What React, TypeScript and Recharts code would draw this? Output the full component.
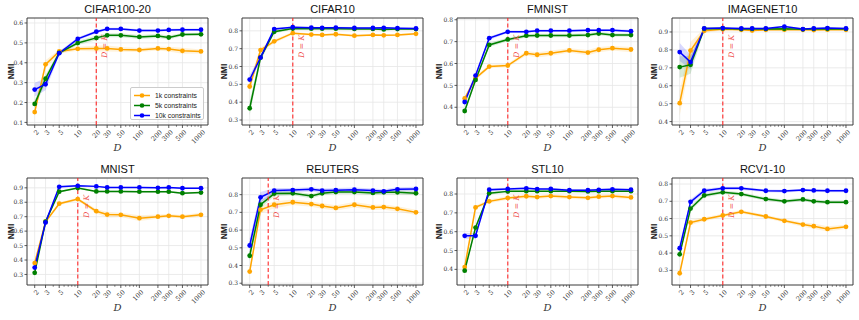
import React from "react";
import {
  ComposedChart,
  Line,
  Area,
  XAxis,
  YAxis,
  CartesianGrid,
  ReferenceLine,
  ReferenceArea,
} from "recharts";

const D_VALUES = [2, 3, 5, 10, 20, 30, 50, 100, 200, 300, 500, 1000];
const MINOR_D = [4, 6, 7, 8, 9, 40, 60, 70, 80, 90, 400, 600, 700, 800, 900];
const SERIES_NAMES = ["1k constraints", "5k constraints", "10k constraints"];
const COLORS = ["#ffa500", "#008000", "#0000ff"];

const TICKS_1_6 = [0.1, 0.2, 0.3, 0.4, 0.5, 0.6];
const TICKS_3_8 = [0.3, 0.4, 0.5, 0.6, 0.7, 0.8];
const TICKS_4_8 = [0.4, 0.5, 0.6, 0.7, 0.8];
const TICKS_4_9 = [0.4, 0.5, 0.6, 0.7, 0.8, 0.9];
const TICKS_3_9 = [0.3, 0.4, 0.5, 0.6, 0.7, 0.8, 0.9];

// CIFAR100-20
const c100_1k = [0.152, 0.392, 0.457, 0.47, 0.472, 0.472, 0.467, 0.464, 0.472, 0.469, 0.46, 0.457];
const c100_5k = [0.193, 0.32, 0.45, 0.499, 0.525, 0.538, 0.538, 0.53, 0.535, 0.527, 0.542, 0.543];
const c100_10k = [0.265, 0.292, 0.448, 0.52, 0.556, 0.57, 0.57, 0.562, 0.562, 0.565, 0.566, 0.566];
const c100_e1k = [0.01, 0.02, 0.01, 0.01, 0.015, 0.015, 0.012, 0.01, 0.01, 0.012, 0.015, 0.01];
const c100_e5k = [0.02, 0.02, 0.01, 0.01, 0.012, 0.01, 0.01, 0.01, 0.01, 0.01, 0.008, 0.008];
const c100_e10k = [0.035, 0.03, 0.01, 0.008, 0.008, 0.006, 0.006, 0.006, 0.006, 0.006, 0.006, 0.006];

// CIFAR10
const c10_1k = [0.488, 0.692, 0.741, 0.787, 0.779, 0.777, 0.781, 0.773, 0.777, 0.775, 0.777, 0.783];
const c10_5k = [0.366, 0.65, 0.795, 0.813, 0.812, 0.812, 0.812, 0.811, 0.811, 0.808, 0.81, 0.81];
const c10_10k = [0.527, 0.65, 0.81, 0.82, 0.818, 0.817, 0.818, 0.816, 0.816, 0.817, 0.815, 0.813];
const c10_e1k = [0.03, 0.015, 0.01, 0.008, 0.006, 0.006, 0.006, 0.006, 0.006, 0.006, 0.006, 0.006];
const c10_e5k = [0.04, 0.02, 0.01, 0.005, 0.005, 0.005, 0.005, 0.005, 0.005, 0.005, 0.005, 0.005];
const c10_e10k = [0.025, 0.015, 0.008, 0.005, 0.005, 0.005, 0.005, 0.005, 0.005, 0.005, 0.005, 0.005];

// FMNIST
const fm_1k = [0.44, 0.533, 0.586, 0.591, 0.647, 0.64, 0.647, 0.66, 0.65, 0.663, 0.67, 0.664];
const fm_5k = [0.383, 0.525, 0.685, 0.71, 0.727, 0.728, 0.728, 0.728, 0.73, 0.737, 0.73, 0.73];
const fm_10k = [0.424, 0.545, 0.716, 0.745, 0.745, 0.75, 0.75, 0.75, 0.752, 0.752, 0.752, 0.748];
const fm_e1k = [0.01, 0.01, 0.008, 0.008, 0.01, 0.012, 0.012, 0.01, 0.012, 0.012, 0.01, 0.012];
const fm_e5k = [0.01, 0.01, 0.01, 0.008, 0.008, 0.008, 0.008, 0.008, 0.008, 0.008, 0.008, 0.008];
const fm_e10k = [0.02, 0.01, 0.008, 0.006, 0.006, 0.006, 0.006, 0.006, 0.006, 0.006, 0.006, 0.006];

// IMAGENET10
const in_1k = [0.503, 0.796, 0.907, 0.915, 0.912, 0.908, 0.912, 0.913, 0.912, 0.911, 0.913, 0.912];
const in_5k = [0.704, 0.717, 0.918, 0.92, 0.916, 0.917, 0.917, 0.918, 0.915, 0.917, 0.918, 0.917];
const in_10k = [0.788, 0.732, 0.92, 0.922, 0.92, 0.92, 0.92, 0.93, 0.916, 0.92, 0.922, 0.92];
const in_e1k = [0.07, 0.05, 0.012, 0.006, 0.006, 0.006, 0.006, 0.006, 0.006, 0.006, 0.006, 0.006];
const in_e5k = [0.06, 0.05, 0.01, 0.005, 0.005, 0.005, 0.005, 0.005, 0.005, 0.005, 0.005, 0.005];
const in_e10k = [0.05, 0.04, 0.008, 0.005, 0.005, 0.005, 0.005, 0.005, 0.005, 0.005, 0.005, 0.005];

// MNIST
const mn_1k = [0.379, 0.665, 0.79, 0.822, 0.738, 0.715, 0.713, 0.69, 0.7, 0.706, 0.7, 0.713];
const mn_5k = [0.311, 0.665, 0.873, 0.898, 0.875, 0.875, 0.875, 0.873, 0.873, 0.873, 0.863, 0.867];
const mn_10k = [0.348, 0.66, 0.907, 0.914, 0.91, 0.903, 0.903, 0.903, 0.9, 0.903, 0.897, 0.897];
const mn_e1k = [0.01, 0.01, 0.01, 0.01, 0.015, 0.02, 0.015, 0.02, 0.015, 0.012, 0.012, 0.015];
const mn_e5k = [0.01, 0.008, 0.006, 0.005, 0.006, 0.006, 0.006, 0.006, 0.006, 0.006, 0.006, 0.006];
const mn_e10k = [0.01, 0.008, 0.005, 0.005, 0.005, 0.005, 0.005, 0.005, 0.005, 0.005, 0.005, 0.005];

// REUTERS
const re_1k = [0.366, 0.715, 0.743, 0.757, 0.747, 0.736, 0.725, 0.743, 0.728, 0.73, 0.72, 0.7];
const re_5k = [0.455, 0.743, 0.806, 0.808, 0.792, 0.808, 0.815, 0.815, 0.81, 0.813, 0.813, 0.808];
const re_10k = [0.513, 0.785, 0.823, 0.826, 0.83, 0.823, 0.825, 0.828, 0.823, 0.819, 0.83, 0.832];
const re_e1k = [0.02, 0.02, 0.02, 0.015, 0.015, 0.015, 0.015, 0.015, 0.015, 0.015, 0.015, 0.015];
const re_e5k = [0.03, 0.02, 0.015, 0.012, 0.012, 0.012, 0.012, 0.012, 0.012, 0.012, 0.012, 0.012];
const re_e10k = [0.04, 0.03, 0.015, 0.012, 0.012, 0.012, 0.012, 0.012, 0.012, 0.012, 0.012, 0.012];

// STL10
const st_1k = [0.412, 0.729, 0.761, 0.779, 0.788, 0.784, 0.789, 0.784, 0.78, 0.786, 0.789, 0.782];
const st_5k = [0.393, 0.622, 0.804, 0.814, 0.815, 0.815, 0.815, 0.815, 0.814, 0.815, 0.815, 0.815];
const st_10k = [0.578, 0.578, 0.823, 0.827, 0.83, 0.826, 0.827, 0.82, 0.82, 0.822, 0.825, 0.823];
const st_e1k = [0.01, 0.01, 0.01, 0.01, 0.01, 0.01, 0.01, 0.01, 0.01, 0.01, 0.01, 0.01];
const st_e5k = [0.01, 0.01, 0.008, 0.006, 0.006, 0.006, 0.006, 0.006, 0.006, 0.006, 0.006, 0.006];
const st_e10k = [0.015, 0.015, 0.008, 0.006, 0.006, 0.006, 0.006, 0.006, 0.006, 0.006, 0.006, 0.006];

// RCV1-10 (no run at D = 30)
const rc_1k = [0.283, 0.577, 0.596, 0.618, 0.639, null, 0.612, 0.587, 0.565, 0.556, 0.54, 0.552];
const rc_5k = [0.393, 0.658, 0.734, 0.752, 0.742, null, 0.713, 0.7, 0.711, 0.7, 0.695, 0.695];
const rc_10k = [0.428, 0.697, 0.761, 0.775, 0.775, null, 0.761, 0.759, 0.765, 0.763, 0.761, 0.761];
const rc_e1k = [0.01, 0.015, 0.012, 0.01, 0.01, null, 0.01, 0.01, 0.012, 0.015, 0.015, 0.012];
const rc_e5k = [0.01, 0.015, 0.012, 0.01, 0.01, null, 0.01, 0.01, 0.01, 0.01, 0.01, 0.01];
const rc_e10k = [0.01, 0.015, 0.012, 0.01, 0.01, null, 0.008, 0.008, 0.008, 0.008, 0.008, 0.008];

type Panel = {
  title: string;
  k: number;
  yDomain: [number, number];
  yTicks: number[];
  values: (number | null)[][];
  spreads: (number | null)[][];
  legend?: boolean;
};

const PANELS: Panel[] = [
  { title: "CIFAR100-20", k: 20, yDomain: [0.087, 0.625], yTicks: TICKS_1_6, values: [c100_1k, c100_5k, c100_10k], spreads: [c100_e1k, c100_e5k, c100_e10k], legend: true },
  { title: "CIFAR10", k: 10, yDomain: [0.272, 0.872], yTicks: TICKS_3_8, values: [c10_1k, c10_5k, c10_10k], spreads: [c10_e1k, c10_e5k, c10_e10k] },
  { title: "FMNIST", k: 10, yDomain: [0.319, 0.808], yTicks: TICKS_4_8, values: [fm_1k, fm_5k, fm_10k], spreads: [fm_e1k, fm_e5k, fm_e10k] },
  { title: "IMAGENET10", k: 10, yDomain: [0.381, 0.978], yTicks: TICKS_4_9, values: [in_1k, in_5k, in_10k], spreads: [in_e1k, in_e5k, in_e10k] },
  { title: "MNIST", k: 10, yDomain: [0.227, 0.968], yTicks: TICKS_3_9, values: [mn_1k, mn_5k, mn_10k], spreads: [mn_e1k, mn_e5k, mn_e10k] },
  { title: "REUTERS", k: 4, yDomain: [0.29, 0.894], yTicks: TICKS_3_8, values: [re_1k, re_5k, re_10k], spreads: [re_e1k, re_e5k, re_e10k] },
  { title: "STL10", k: 10, yDomain: [0.317, 0.885], yTicks: TICKS_4_8, values: [st_1k, st_5k, st_10k], spreads: [st_e1k, st_e5k, st_e10k] },
  { title: "RCV1-10", k: 10, yDomain: [0.215, 0.835], yTicks: TICKS_3_8, values: [rc_1k, rc_5k, rc_10k], spreads: [rc_e1k, rc_e5k, rc_e10k] },
];

const X_DOMAIN: [number, number] = [1.5, 1300];
const PANEL_W = 215;
const PANEL_H = 160;
const MARGIN = { top: 18, right: 7, left: 0, bottom: 0 };
const Y_AXIS_W = 27;
const X_AXIS_H = 35;
const SERIF = "'DejaVu Serif', 'Liberation Serif', serif";
const SANS = "'Liberation Sans', Arial, sans-serif";

function buildRows(p: Panel) {
  return D_VALUES.map((d, i) => {
    const row: any = { d };
    p.values.forEach((vals, s) => {
      const v = vals[i];
      const e = p.spreads[s][i];
      row["s" + s] = v;
      row["b" + s] = v == null || e == null ? null : [v - e, v + e];
    });
    return row;
  });
}

const XTick = (props: any) => {
  const { x, y, payload } = props;
  const major = D_VALUES.includes(payload.value);
  return (
    <g transform={`translate(${x},${y})`}>
      <line x1={0} x2={0} y1={0} y2={major ? 3 : 1.8} stroke="#333" strokeWidth={major ? 0.8 : 0.6} />
      {major && (
        <text
          transform="translate(3,6) rotate(-45)"
          textAnchor="end"
          dy="0.35em"
          fontSize={6.5}
          fontFamily={SERIF}
          fill="#333"
        >
          {payload.value}
        </text>
      )}
    </g>
  );
};

const KLabel = (props: any) => {
  const vb = props.viewBox || {};
  const x = (vb.x ?? 0) + 11;
  const y = (vb.y ?? 0) + 17;
  return (
    <text
      transform={`rotate(-90 ${x} ${y})`}
      x={x}
      y={y}
      textAnchor="end"
      fontSize={7.5}
      fontFamily={SERIF}
      fill="#f04a4a"
    >
      <tspan fontStyle="italic">D</tspan>
      <tspan> = </tspan>
      <tspan fontStyle="italic">K</tspan>
    </text>
  );
};

function LegendBox() {
  return (
    <div
      style={{
        position: "absolute",
        left: 130,
        top: 87,
        width: 74,
        height: 33,
        border: "1px solid #cccccc",
        borderRadius: 2,
        background: "rgba(255,255,255,0.9)",
        boxSizing: "border-box",
      }}
    >
      {SERIES_NAMES.map((name, i) => (
        <div key={name} style={{ position: "absolute", left: 2, top: 2.5 + i * 10, height: 9, display: "flex", alignItems: "center" }}>
          <svg width={18} height={9}>
            <line x1={1} x2={17} y1={4.5} y2={4.5} stroke={COLORS[i]} strokeWidth={1.5} />
            <circle cx={9} cy={4.5} r={2.3} fill={COLORS[i]} />
          </svg>
          <span style={{ fontFamily: SANS, fontSize: 6.8, color: "#222", marginLeft: 4, whiteSpace: "nowrap" }}>{name}</span>
        </div>
      ))}
    </div>
  );
}

function PanelChart({ p, col, row }: { p: Panel; col: number; row: number }) {
  const data = buildRows(p);
  const plotLeft = MARGIN.left + Y_AXIS_W;
  const plotW = PANEL_W - plotLeft - MARGIN.right;
  const plotTop = MARGIN.top;
  const plotH = PANEL_H - MARGIN.top - X_AXIS_H;
  return (
    <div style={{ position: "absolute", left: col * PANEL_W, top: row * PANEL_H, width: PANEL_W, height: PANEL_H }}>
      <ComposedChart width={PANEL_W} height={PANEL_H} data={data} margin={MARGIN}>
        <CartesianGrid stroke="#e6e6e6" strokeWidth={0.8} verticalValues={D_VALUES} horizontalValues={p.yTicks} />
        <XAxis
          dataKey="d"
          type="number"
          scale="log"
          domain={X_DOMAIN}
          allowDataOverflow
          ticks={[...D_VALUES, ...MINOR_D]}
          interval={0}
          tick={<XTick />}
          tickLine={false}
          axisLine={false}
          tickSize={0}
          tickMargin={0}
          height={X_AXIS_H}
        />
        <YAxis
          type="number"
          domain={p.yDomain}
          allowDataOverflow
          ticks={p.yTicks}
          interval={0}
          width={Y_AXIS_W}
          axisLine={false}
          tickLine={{ stroke: "#333", strokeWidth: 0.8 }}
          tickSize={2.5}
          tickMargin={1.5}
          tick={{ fontSize: 6, fontFamily: SERIF, fill: "#333" }}
          tickFormatter={(v: number) => v.toFixed(1)}
        />
        {COLORS.map((c, s) => (
          <Area
            key={"b" + s}
            dataKey={"b" + s}
            type="linear"
            stroke="none"
            fill={c}
            fillOpacity={0.15}
            connectNulls
            isAnimationActive={false}
            activeDot={false}
          />
        ))}
        {COLORS.map((c, s) => (
          <Line
            key={"s" + s}
            dataKey={"s" + s}
            type="linear"
            stroke={c}
            strokeWidth={1.5}
            dot={{ r: 2.4, fill: c, stroke: c, strokeWidth: 0 }}
            activeDot={false}
            connectNulls
            isAnimationActive={false}
          />
        ))}
        <ReferenceLine
          x={p.k}
          stroke="#ff2a2a"
          strokeOpacity={0.85}
          strokeWidth={1.3}
          strokeDasharray="4 2.5"
          label={(lp: any) => <KLabel {...lp} />}
        />
        <ReferenceArea
          x1={X_DOMAIN[0]}
          x2={X_DOMAIN[1]}
          y1={p.yDomain[0]}
          y2={p.yDomain[1]}
          fill="none"
          fillOpacity={0}
          stroke="#3a3a3a"
          strokeWidth={1}
          ifOverflow="visible"
        />
      </ComposedChart>
      <svg
        width={PANEL_W}
        height={PANEL_H}
        style={{ position: "absolute", left: 0, top: 0, pointerEvents: "none", overflow: "visible" }}
      >
        <text x={plotLeft + plotW / 2} y={plotTop - 5} textAnchor="middle" fontFamily={SANS} fontSize={11} fill="#111">
          {p.title}
        </text>
        <text
          x={0}
          y={0}
          transform={`translate(${col === 0 ? 13.5 : 12} ${plotTop + plotH / 2}) rotate(-90)`}
          textAnchor="middle"
          fontFamily={SANS}
          fontSize={8.5}
          fontWeight={600}
          fill="#222"
        >
          NMI
        </text>
        <text
          x={plotLeft + plotW / 2}
          y={PANEL_H - 9.5}
          textAnchor="middle"
          fontFamily={SERIF}
          fontStyle="italic"
          fontSize={10}
          fill="#333"
        >
          D
        </text>
      </svg>
      {p.legend && <LegendBox />}
    </div>
  );
}

export default function App() {
  return (
    <div style={{ position: "absolute", left: 0, top: 0, width: 859, height: 320, background: "#fff", overflow: "hidden" }}>
      {PANELS.map((p, i) => (
        <PanelChart key={p.title} p={p} col={i % 4} row={Math.floor(i / 4)} />
      ))}
    </div>
  );
}
